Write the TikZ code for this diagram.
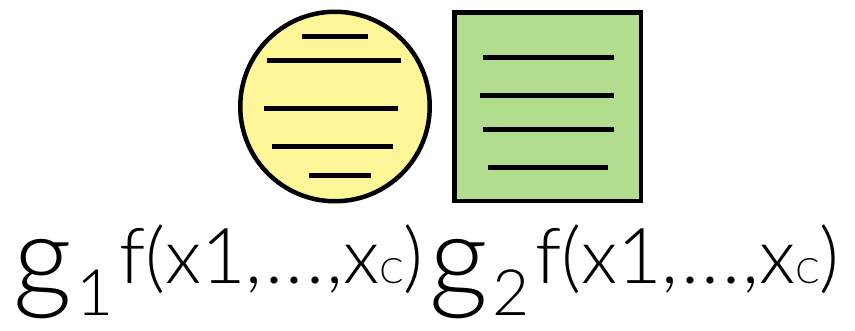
\documentclass[tikz,border=0pt]{standalone}
\usepackage{fontspec}
\IfFontExistsTF{Lato Light}{\setmainfont{Lato Light}}{\setmainfont{TeX Gyre Heros}}
\usetikzlibrary{positioning}
\definecolor{discyellow}{RGB}{255,246,153}
\definecolor{boxgreen}{RGB}{178,221,143}
\tikzset{
  disc/.style={draw,circle,line width=4.5pt,fill=discyellow,minimum size=189.5pt,inner sep=0pt},
  sqbox/.style={draw,rectangle,line width=4.5pt,fill=boxgreen,minimum width=186.5pt,minimum height=188.5pt,inner sep=0pt},
  stripe/.style={line width=5pt},
  glab/.style={anchor=base west,inner sep=0pt}
}
\newcommand{\gpow}[1]{{\fontsize{115}{115}\selectfont g}\hspace{5pt}\raisebox{-18pt}{\fontsize{64}{64}\selectfont #1}\hspace{5pt}\raisebox{14pt}{\fontsize{77}{77}\selectfont f(x1,\kern2.5pt.\kern2.5pt.\kern2.5pt.\kern2.5pt,x{\fontsize{35}{35}\selectfont C})}}

\begin{document}
\begin{tikzpicture}[x=1pt,y=-1pt]
  \useasboundingbox (0,0) rectangle (855,330);
  \node[disc] (d1) at (335,106.5) {};
  \node[sqbox] (b2) at (547.5,106.5) {};

  % stripes in the disc
  \draw[stripe] (302,36)--(368,36);
  \draw[stripe] (267,60)--(401,60);
  \draw[stripe] (264,108)--(398,108);
  \draw[stripe] (272,146)--(393,146);
  \draw[stripe] (309,175)--(371,175);
  % stripes in the box
  \draw[stripe] (483,57)--(614,57);
  \draw[stripe] (480,95)--(614,95);
  \draw[stripe] (483,129)--(614,129);
  \draw[stripe] (488,167)--(608,167);

  \node[glab] (l1) at (13,297) {\gpow{1}};
  \node[glab] (l2) at (429,297) {\gpow{2}};
\end{tikzpicture}
\end{document}
